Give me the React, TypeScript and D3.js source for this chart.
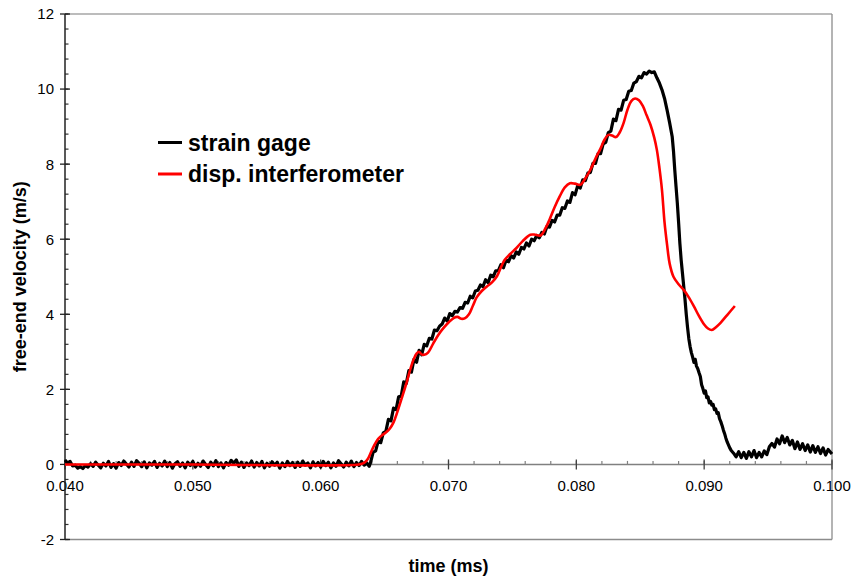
import React from "react";
import * as d3 from "d3";

const W = 853;
const H = 580;

const xDomain: [number, number] = [0.04, 0.1];
const yDomain: [number, number] = [-2, 12];
const xMajorTicks = [0.04, 0.05, 0.06, 0.07, 0.08, 0.09, 0.1];
const yMajorTicks = [-2, 0, 2, 4, 6, 8, 10, 12];

const seriesNames = ["strain gage", "disp. interferometer"];
const seriesColors = ["#000000", "#ff0000"];

// strain gage [time (ms), velocity (m/s)]
const strainGage: [number, number][] = [
  [0.0400, 0.12], [0.0402, 0.04], [0.0404, 0.08], [0.0406, -0.04], [0.0408, -0.02],
  [0.0410, -0.10], [0.0412, -0.06], [0.0414, -0.11], [0.0416, -0.03], [0.0418, -0.07],
  [0.0420, 0.02], [0.0422, -0.05], [0.0424, 0.06], [0.0426, -0.02], [0.0428, -0.09],
  [0.0430, 0.03], [0.0432, -0.04], [0.0434, 0.08], [0.0436, -0.08], [0.0438, 0.02],
  [0.0440, -0.10], [0.0442, 0.05], [0.0444, -0.03], [0.0446, 0.09], [0.0448, 0.01],
  [0.0450, -0.07], [0.0452, 0.06], [0.0454, -0.05], [0.0456, 0.10], [0.0458, 0.03],
  [0.0460, -0.06], [0.0462, 0.07], [0.0464, -0.09], [0.0466, 0.04], [0.0468, -0.02],
  [0.0470, 0.08], [0.0472, -0.08], [0.0474, 0.03], [0.0476, -0.04], [0.0478, 0.09],
  [0.0480, -0.06], [0.0482, 0.05], [0.0484, -0.10], [0.0486, 0.02], [0.0488, 0.07],
  [0.0490, -0.05], [0.0492, 0.04], [0.0494, -0.09], [0.0496, 0.06], [0.0498, -0.03],
  [0.0500, 0.08], [0.0502, -0.07], [0.0504, 0.03], [0.0506, -0.05], [0.0508, 0.09],
  [0.0510, 0.00], [0.0512, -0.08], [0.0514, 0.06], [0.0516, -0.04], [0.0518, 0.10],
  [0.0520, -0.06], [0.0522, 0.04], [0.0524, -0.09], [0.0526, 0.05], [0.0528, -0.02],
  [0.0530, 0.11], [0.0532, 0.03], [0.0534, 0.12], [0.0536, -0.05], [0.0538, 0.06],
  [0.0540, -0.08], [0.0542, 0.04], [0.0544, -0.03], [0.0546, 0.09], [0.0548, -0.07],
  [0.0550, 0.05], [0.0552, -0.04], [0.0554, 0.08], [0.0556, -0.09], [0.0558, 0.03],
  [0.0560, -0.05], [0.0562, 0.07], [0.0564, -0.02], [0.0566, 0.06], [0.0568, -0.10],
  [0.0570, 0.04], [0.0572, -0.06], [0.0574, 0.08], [0.0576, -0.03], [0.0578, 0.05],
  [0.0580, -0.08], [0.0582, 0.06], [0.0584, -0.05], [0.0586, 0.09], [0.0588, -0.02],
  [0.0590, 0.04], [0.0592, -0.09], [0.0594, 0.07], [0.0596, -0.04], [0.0598, 0.05],
  [0.0600, -0.07], [0.0602, 0.08], [0.0604, -0.03], [0.0606, 0.06], [0.0608, -0.09],
  [0.0610, 0.04], [0.0612, -0.05], [0.0614, 0.10], [0.0616, 0.02], [0.0618, -0.07],
  [0.0620, 0.06], [0.0622, -0.04], [0.0624, 0.09], [0.0626, -0.06], [0.0628, 0.05],
  [0.0630, -0.03], [0.0632, 0.08], [0.0634, -0.02], [0.0636, 0.04], [0.0638, -0.05],
  [0.0639, 0.05], [0.0641, 0.32], [0.0643, 0.36], [0.0645, 0.62], [0.0647, 0.58],
  [0.0649, 0.84], [0.0651, 0.88], [0.0653, 1.20], [0.0655, 1.16], [0.0657, 1.50],
  [0.0659, 1.46], [0.0661, 1.80], [0.0663, 1.82], [0.0665, 2.20], [0.0667, 2.16],
  [0.0669, 2.50], [0.0671, 2.46], [0.0673, 2.80], [0.0675, 2.72], [0.0677, 3.04],
  [0.0679, 2.92], [0.0681, 3.20], [0.0683, 3.16], [0.0685, 3.36], [0.0687, 3.34],
  [0.0689, 3.58], [0.0691, 3.56], [0.0693, 3.68], [0.0695, 3.74], [0.0697, 3.90],
  [0.0699, 3.82], [0.0701, 4.02], [0.0703, 3.96], [0.0705, 4.08], [0.0707, 4.06],
  [0.0709, 4.18], [0.0711, 4.16], [0.0713, 4.32], [0.0715, 4.30], [0.0717, 4.48],
  [0.0719, 4.44], [0.0721, 4.62], [0.0723, 4.64], [0.0725, 4.78], [0.0727, 4.74],
  [0.0729, 4.92], [0.0731, 4.84], [0.0733, 5.04], [0.0735, 5.00], [0.0737, 5.16],
  [0.0739, 5.16], [0.0741, 5.32], [0.0743, 5.24], [0.0745, 5.44], [0.0747, 5.40],
  [0.0749, 5.56], [0.0751, 5.50], [0.0753, 5.66], [0.0755, 5.60], [0.0757, 5.78],
  [0.0759, 5.74], [0.0761, 5.90], [0.0763, 5.82], [0.0765, 6.00], [0.0767, 5.96],
  [0.0769, 6.10], [0.0771, 6.04], [0.0773, 6.18], [0.0775, 6.14], [0.0777, 6.34],
  [0.0779, 6.32], [0.0781, 6.50], [0.0783, 6.46], [0.0785, 6.64], [0.0787, 6.64],
  [0.0789, 6.84], [0.0791, 6.82], [0.0793, 7.02], [0.0795, 6.98], [0.0797, 7.24],
  [0.0799, 7.18], [0.0801, 7.42], [0.0803, 7.36], [0.0805, 7.58], [0.0807, 7.56],
  [0.0809, 7.76], [0.0811, 7.78], [0.0813, 8.02], [0.0815, 8.02], [0.0817, 8.28],
  [0.0819, 8.28], [0.0821, 8.54], [0.0823, 8.58], [0.0825, 8.84], [0.0827, 8.88],
  [0.0829, 9.20], [0.0831, 9.16], [0.0833, 9.46], [0.0835, 9.44], [0.0837, 9.70],
  [0.0839, 9.72], [0.0841, 9.94], [0.0843, 9.96], [0.0845, 10.16], [0.0847, 10.20],
  [0.0849, 10.34], [0.0851, 10.30], [0.0853, 10.44], [0.0855, 10.40], [0.0857, 10.48],
  [0.0859, 10.44], [0.0861, 10.46], [0.0863, 10.30], [0.0865, 10.16], [0.0867, 9.98],
  [0.0869, 9.75], [0.0871, 9.44], [0.0873, 9.10], [0.0875, 8.73], [0.0876, 8.35],
  [0.0877, 7.85], [0.0878, 7.40], [0.0879, 6.96], [0.0880, 6.45], [0.0881, 5.89],
  [0.0882, 5.45], [0.0883, 5.10], [0.0884, 4.75], [0.0885, 4.40], [0.0886, 4.00],
  [0.0887, 3.65], [0.0888, 3.35], [0.0889, 3.14], [0.0890, 2.98], [0.0891, 2.86],
  [0.0892, 2.72], [0.0893, 2.80], [0.0894, 2.62], [0.0895, 2.55], [0.0896, 2.44],
  [0.0897, 2.34], [0.0898, 2.12], [0.0899, 2.02], [0.0900, 1.90], [0.0901, 1.96],
  [0.0902, 1.78], [0.0903, 1.80], [0.0904, 1.64], [0.0905, 1.68], [0.0906, 1.58],
  [0.0907, 1.60], [0.0908, 1.46], [0.0909, 1.48], [0.0910, 1.36], [0.0911, 1.38],
  [0.0912, 1.22], [0.0913, 1.14], [0.0914, 1.04], [0.0915, 0.92], [0.0916, 0.82],
  [0.0917, 0.70], [0.0918, 0.60], [0.0919, 0.52], [0.0920, 0.44], [0.0921, 0.38],
  [0.0923, 0.30], [0.0925, 0.20], [0.0927, 0.34], [0.0929, 0.18], [0.0931, 0.32],
  [0.0933, 0.16], [0.0935, 0.34], [0.0937, 0.20], [0.0939, 0.37], [0.0941, 0.18],
  [0.0943, 0.32], [0.0945, 0.20], [0.0947, 0.36], [0.0949, 0.26], [0.0951, 0.47],
  [0.0953, 0.56], [0.0955, 0.46], [0.0957, 0.68], [0.0959, 0.55], [0.0961, 0.76],
  [0.0963, 0.58], [0.0965, 0.72], [0.0967, 0.52], [0.0969, 0.64], [0.0971, 0.42],
  [0.0973, 0.60], [0.0975, 0.40], [0.0977, 0.55], [0.0979, 0.37], [0.0981, 0.52],
  [0.0983, 0.33], [0.0985, 0.50], [0.0987, 0.32], [0.0989, 0.47], [0.0991, 0.29],
  [0.0993, 0.44], [0.0995, 0.25], [0.0997, 0.40], [0.1000, 0.28],
];

// displacement interferometer [time (ms), velocity (m/s)]
const interferometer: [number, number][] = [
  [0.0400, 0], [0.0500, 0], [0.0630, 0], [0.0634, 0.04], [0.0637, 0.15],
  [0.0641, 0.45], [0.0645, 0.68], [0.0648, 0.78], [0.0651, 0.85], [0.0654, 0.95],
  [0.0657, 1.12], [0.0660, 1.40], [0.0663, 1.72], [0.0667, 2.15], [0.0670, 2.52],
  [0.0673, 2.82], [0.0675, 2.95], [0.0677, 3.00], [0.0679, 2.93], [0.0681, 2.92],
  [0.0684, 2.98], [0.0688, 3.22], [0.0692, 3.45], [0.0696, 3.63], [0.0700, 3.78],
  [0.0704, 3.90], [0.0707, 3.93], [0.0710, 3.88], [0.0713, 3.90], [0.0716, 4.00],
  [0.0719, 4.22], [0.0722, 4.45], [0.0726, 4.62], [0.0730, 4.74], [0.0734, 4.85],
  [0.0738, 5.02], [0.0741, 5.25], [0.0744, 5.45], [0.0748, 5.60], [0.0753, 5.76],
  [0.0758, 5.95], [0.0764, 6.12], [0.0768, 6.12], [0.0772, 6.10], [0.0776, 6.30],
  [0.0779, 6.52], [0.0783, 6.85], [0.0787, 7.14], [0.0791, 7.38], [0.0795, 7.49],
  [0.0799, 7.48], [0.0803, 7.45], [0.0807, 7.62], [0.0811, 7.85], [0.0815, 8.15],
  [0.0819, 8.42], [0.0822, 8.65], [0.0825, 8.78], [0.0828, 8.76], [0.0831, 8.72],
  [0.0834, 8.85], [0.0837, 9.10], [0.0840, 9.45], [0.0843, 9.68], [0.0846, 9.75],
  [0.0849, 9.70], [0.0852, 9.55], [0.0855, 9.30], [0.0858, 9.05], [0.0861, 8.70],
  [0.0863, 8.38], [0.0865, 7.90], [0.0867, 7.31], [0.0869, 6.45], [0.0871, 5.85],
  [0.0873, 5.35], [0.0876, 5.00], [0.0880, 4.80], [0.0884, 4.65], [0.0888, 4.45],
  [0.0892, 4.21], [0.0896, 3.95], [0.0900, 3.73], [0.0903, 3.62], [0.0906, 3.58],
  [0.0909, 3.65], [0.0913, 3.78], [0.0918, 3.98], [0.0924, 4.22],
];

const FONT = "'Liberation Sans', Arial, Helvetica, sans-serif";

export default function App() {
  const left = 65, right = 832, top = 14, bottom = 539.5;
  const x = d3.scaleLinear().domain(xDomain).range([left, right]);
  const y = d3.scaleLinear().domain(yDomain).range([bottom, top]);
  const y0 = y(0);

  const blackLine = d3
    .line<[number, number]>()
    .x((d) => x(d[0]))
    .y((d) => y(d[1]))
    .curve(d3.curveLinear);
  const redLine = d3
    .line<[number, number]>()
    .x((d) => x(d[0]))
    .y((d) => y(d[1]))
    .curve(d3.curveCatmullRom.alpha(0.5));

  const yMinor = d3.range(-2, 12.0001, 0.4);
  const xMinor = d3.range(0.04, 0.10001, 0.002);
  const fmt = d3.format(".3f");

  return (
    <svg
      width={W}
      height={H}
      style={{ position: "absolute", left: 0, top: 0, background: "#fff" }}
      fontFamily={FONT}
    >
      <rect x={0} y={0} width={W} height={H} fill="#fff" />
      {/* frame */}
      <line x1={left} x2={right} y1={top} y2={top} stroke="#a6a6a6" strokeWidth={1.3} />
      <line x1={right} x2={right} y1={top} y2={bottom} stroke="#8c8c8c" strokeWidth={1.3} />
      <line x1={left} x2={right} y1={bottom} y2={bottom} stroke="#8c8c8c" strokeWidth={1.3} />

      {/* x axis at y = 0 */}
      <line x1={left} x2={right} y1={y0} y2={y0} stroke="#808080" strokeWidth={1.5} />
      {xMinor.map((t, i) => (
        <line key={"xm" + i} x1={x(t)} x2={x(t)} y1={y0 - 3.5} y2={y0} stroke="#808080" strokeWidth={1.2} />
      ))}
      {xMajorTicks.map((t, i) => (
        <g key={"xM" + i}>
          <line x1={x(t)} x2={x(t)} y1={y0 - 5} y2={y0 + 5} stroke="#404040" strokeWidth={1.3} />
          <text x={x(t)} y={y0 + 27} textAnchor="middle" fontSize={15} fill="#000">
            {fmt(t)}
          </text>
        </g>
      ))}

      {/* y axis */}
      {yMinor.map((v, i) => (
        <line key={"ym" + i} x1={left} x2={left + 3.5} y1={y(v)} y2={y(v)} stroke="#333" strokeWidth={1.2} />
      ))}
      {yMajorTicks.map((v, i) => (
        <g key={"yM" + i}>
          <line x1={left - 5} x2={left + 5} y1={y(v)} y2={y(v)} stroke="#222" strokeWidth={1.3} />
          <text x={left - 11} y={y(v)} dy="0.36em" textAnchor="end" fontSize={15} fill="#000">
            {v}
          </text>
        </g>
      ))}
      <line x1={left} x2={left} y1={top} y2={bottom} stroke="#222" strokeWidth={1.5} />

      {/* series */}
      <path d={blackLine(strainGage) ?? ""} fill="none" stroke={seriesColors[0]} strokeWidth={3.2} strokeLinejoin="round" />
      <path d={redLine(interferometer) ?? ""} fill="none" stroke={seriesColors[1]} strokeWidth={2.6} strokeLinejoin="round" />

      {/* legend */}
      {seriesNames.map((name, i) => (
        <g key={"lg" + i} transform={`translate(158, ${142.5 + i * 31.5})`}>
          <line x1={0} x2={24} y1={0} y2={0} stroke={seriesColors[i]} strokeWidth={3} />
          <text x={30} y={0} dy="0.36em" fontSize={23} fontWeight="bold" fill="#000">
            {name}
          </text>
        </g>
      ))}

      {/* axis titles */}
      <text x={(left + right) / 2} y={572} textAnchor="middle" fontSize={18} fontWeight="bold" fill="#000">
        time (ms)
      </text>
      <text
        transform={`translate(20, ${(top + bottom) / 2}) rotate(-90)`}
        textAnchor="middle"
        dy="0.35em"
        fontSize={18}
        fontWeight="bold"
        fill="#000"
      >
        free-end velocity (m/s)
      </text>
    </svg>
  );
}
